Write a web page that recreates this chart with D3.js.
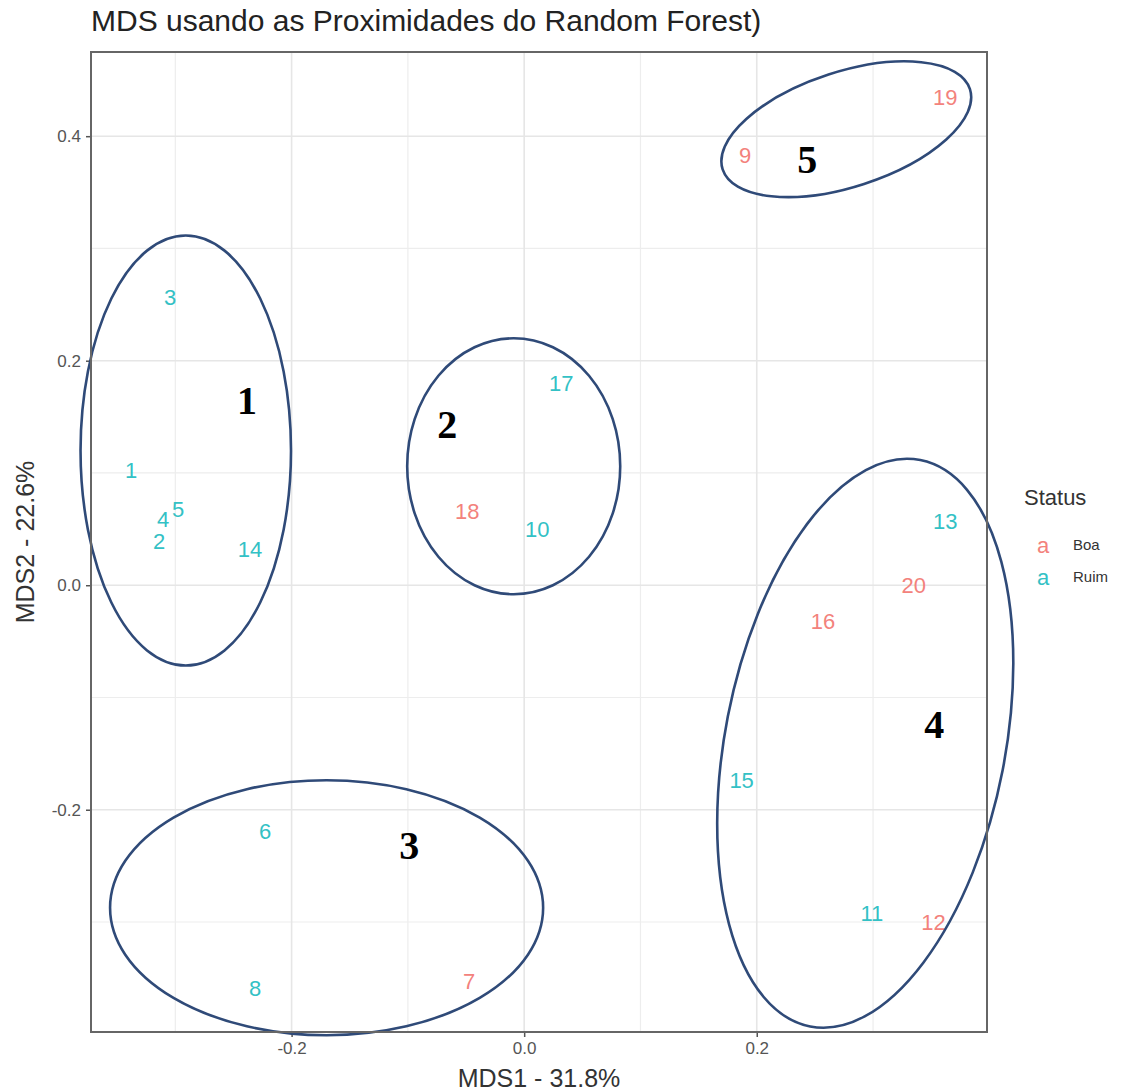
<!DOCTYPE html>
<html><head><meta charset="utf-8">
<script src="https://cdn.jsdelivr.net/npm/d3@7"></script>
<style>body{margin:0;background:#fff}</style>
</head><body><svg id="c" width="1134" height="1091"></svg>
<script>
// ---- data ----
const labels = ["1","2","3","4","5","6","7","8","9","10","11","12","13","14","15","16","17","18","19","20"];
const mds1 = [-0.338,-0.314,-0.3045,-0.3105,-0.2976,-0.2228,-0.0473,-0.2314,0.190,0.0112,0.299,0.352,0.362,-0.2357,0.187,0.257,0.0318,-0.049,0.362,0.335];
const mds2 = [0.1025,0.039,0.2566,0.0588,0.0677,-0.219,-0.3528,-0.359,0.383,0.0499,-0.292,-0.300,0.057,0.032,-0.174,-0.0316,0.180,0.0659,0.435,0.000];
const status = ["Ruim","Ruim","Ruim","Ruim","Ruim","Ruim","Boa","Ruim","Boa","Ruim","Ruim","Boa","Ruim","Ruim","Ruim","Boa","Ruim","Boa","Boa","Boa"];
const statusLevels = ["Boa","Ruim"];
const statusColors = ["#F3827C","#33C1C5"];
const xTicks = [-0.2, 0.0, 0.2];
const yTicks = [-0.2, 0.0, 0.2, 0.4];
const xMinor = [-0.3, -0.1, 0.1, 0.3];
const yMinor = [-0.3, -0.1, 0.1, 0.3];
// cluster annotations: id, centre (data), radii (data units along x / y), rotation (deg)
const clusterIds = ["1","2","3","4","5"];
const clusterCx = [-0.291, -0.009, -0.1699, 0.2933, 0.277];
const clusterCy = [0.120, 0.106, -0.2873, -0.1408, 0.4062];
const clusterRx = [0.0905, 0.0916, 0.1862, 0.1204, 0.1118];
const clusterRy = [0.1915, 0.114, 0.1136, 0.2570, 0.0512];
const clusterRot = [0, 0, 0, 11, -18];
const clusterLabelX = [-0.2383, -0.0662, -0.0989, 0.3527, 0.2434];
const clusterLabelY = [0.1648, 0.1434, -0.2316, -0.1238, 0.3795];

const svg = d3.select("#c");
const L = 91, R = 987, T = 52, B = 1032;
const FONT = "Liberation Sans, Arial, sans-serif";
const x = d3.scaleLinear().domain([-0.3725, 0.398]).range([L, R]);
const y = d3.scaleLinear().domain([-0.398, 0.475]).range([B, T]);
const color = d3.scaleOrdinal().domain(statusLevels).range(statusColors);

// title
svg.append("text").attr("x", L).attr("y", 31).attr("font-family", FONT)
  .attr("font-size", 30).attr("fill", "#222").text("MDS usando as Proximidades do Random Forest)");

const g = svg.append("g");
// grid
g.selectAll(".gxm").data(xMinor).join("line").attr("x1", d => x(d)).attr("x2", d => x(d)).attr("y1", T).attr("y2", B)
  .attr("stroke", "#ededed").attr("stroke-width", 1.2);
g.selectAll(".gym").data(yMinor).join("line").attr("y1", d => y(d)).attr("y2", d => y(d)).attr("x1", L).attr("x2", R)
  .attr("stroke", "#ededed").attr("stroke-width", 1.2);
g.selectAll(".gx").data(xTicks).join("line").attr("x1", d => x(d)).attr("x2", d => x(d)).attr("y1", T).attr("y2", B)
  .attr("stroke", "#e6e6e6").attr("stroke-width", 1.6);
g.selectAll(".gy").data(yTicks).join("line").attr("y1", d => y(d)).attr("y2", d => y(d)).attr("x1", L).attr("x2", R)
  .attr("stroke", "#e6e6e6").attr("stroke-width", 1.6);

// axes
const fmt = d => d3.format(".1f")(d).replace("\u2212", "-");
const xAxis = svg.append("g").attr("transform", `translate(0,${B})`)
  .call(d3.axisBottom(x).tickValues(xTicks).tickFormat(fmt).tickSize(5).tickPadding(5));
const yAxis = svg.append("g").attr("transform", `translate(${L},0)`)
  .call(d3.axisLeft(y).tickValues(yTicks).tickFormat(fmt).tickSize(5).tickPadding(5));
[xAxis, yAxis].forEach(a => {
  a.select(".domain").remove();
  a.selectAll(".tick line").attr("stroke", "#555").attr("stroke-width", 1.5);
  a.selectAll(".tick text").attr("fill", "#555").attr("font-size", 17).attr("font-family", FONT);
});

// points as text labels
const pts = labels.map((l, i) => ({l, x: mds1[i], y: mds2[i], s: status[i]}));
svg.append("g").selectAll("text").data(pts).join("text")
  .attr("x", d => x(d.x)).attr("y", d => y(d.y)).attr("text-anchor", "middle").attr("dy", "0.36em")
  .attr("font-family", FONT).attr("font-size", 22)
  .attr("fill", d => color(d.s)).text(d => d.l);

// ellipses
const kx = x(1) - x(0), ky = y(0) - y(1);
const clusters = clusterIds.map((id, i) => ({id, cx: clusterCx[i], cy: clusterCy[i], rx: clusterRx[i], ry: clusterRy[i], rot: clusterRot[i], lx: clusterLabelX[i], ly: clusterLabelY[i]}));
svg.append("g").selectAll("ellipse").data(clusters).join("ellipse")
  .attr("cx", 0).attr("cy", 0).attr("rx", d => d.rx * kx).attr("ry", d => d.ry * ky)
  .attr("transform", d => `translate(${x(d.cx)},${y(d.cy)}) rotate(${d.rot})`)
  .attr("fill", "none").attr("stroke", "#2f4a78").attr("stroke-width", 2.6);
svg.append("g").selectAll("text").data(clusters).join("text")
  .attr("x", d => x(d.lx)).attr("y", d => y(d.ly)).attr("text-anchor", "middle").attr("dy", "0.34em")
  .attr("font-family", "Liberation Serif, Times New Roman, serif").attr("font-weight", "bold").attr("font-size", 40)
  .attr("fill", "#000").text(d => d.id);

// panel border
svg.append("rect").attr("x", L).attr("y", T).attr("width", R - L).attr("height", B - T)
  .attr("fill", "none").attr("stroke", "#666").attr("stroke-width", 2);

// axis titles
svg.append("text").attr("x", (L + R) / 2).attr("y", 1087).attr("text-anchor", "middle")
  .attr("font-family", FONT).attr("font-size", 25).attr("fill", "#333").text("MDS1 - 31.8%");
svg.append("text").attr("transform", `translate(34,${(T + B) / 2}) rotate(-90)`).attr("text-anchor", "middle")
  .attr("font-family", FONT).attr("font-size", 25).attr("fill", "#333").text("MDS2 - 22.6%");

// legend
const lg = svg.append("g");
lg.append("text").attr("x", 1024).attr("y", 505).attr("font-family", FONT)
  .attr("font-size", 22).attr("fill", "#333").text("Status");
lg.selectAll(".k").data(statusLevels).join("text").attr("x", 1043).attr("y", (d, i) => 545 + i * 32).attr("dy", "0.36em")
  .attr("text-anchor", "middle").attr("font-family", FONT).attr("font-size", 22)
  .attr("fill", d => color(d)).text("a");
lg.selectAll(".t").data(statusLevels).join("text").attr("x", 1073).attr("y", (d, i) => 545 + i * 32).attr("dy", "0.36em")
  .attr("font-family", FONT).attr("font-size", 15).attr("fill", "#333").text(d => d);
</script></body></html>
